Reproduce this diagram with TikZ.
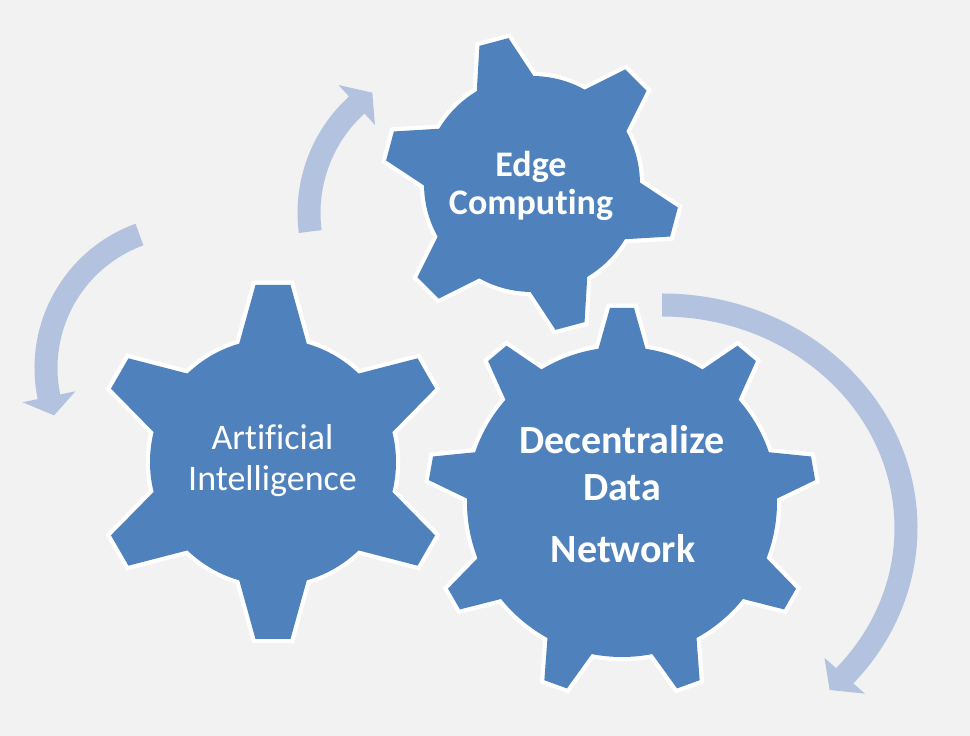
\documentclass[tikz,border=0pt]{standalone}
\usepackage{fontspec}
\setmainfont{Carlito}[Ligatures={NoCommon}]
\definecolor{bgc}{HTML}{F2F2F2}
\definecolor{gearc}{HTML}{4F81BD}
\definecolor{arrowc}{HTML}{B3C3DF}
\tikzset{
  gearline/.style={draw=white, line width=8.5pt, line join=miter},
  gearfill/.style={fill=gearc},
  cyc/.style={fill=arrowc},
  gtxt/.style={text=white, inner sep=0pt, anchor=base},
}
% #1 cx, #2 cy, #3 R, #4 body radius, #5 tip half width, #6 base radius, #7 base half width, #8 angles
\newcommand{\mygear}[8]{%
  \begin{scope}[shift={(#1,#2)}]
    \foreach \t in {#8} {\draw[gearline, rotate=\t] (#3,-#5) -- (#3,#5) -- (#6,#7) -- (#6,-#7) -- cycle;}
    \draw[gearline] (0,0) circle (#4);
    \foreach \t in {#8} {\fill[gearfill, rotate=\t] (#3,-#5) -- (#3,#5) -- (#6,#7) -- (#6,-#7) -- cycle;}
    \fill[gearfill] (0,0) circle (#4);
  \end{scope}}
% #1 cx, #2 cy, #3 rx, #4 ry, #5 start angle, #6 head base angle, #7 tip angle
\newcommand{\cycarrow}[7]{%
  \begin{scope}[shift={(#1,#2)}]
    \fill[cyc] (#5:#3+11.5 and #4+11.5)
      arc[start angle=#5, end angle=#6, x radius=#3+11.5, y radius=#4+11.5]
      -- (#6:#3+27 and #4+27) -- (#7:#3 and #4) -- (#6:#3-27 and #4-27)
      -- (#6:#3-11.5 and #4-11.5)
      arc[start angle=#6, end angle=#5, x radius=#3-11.5, y radius=#4-11.5]
      -- cycle;
  \end{scope}}
\begin{document}
\begin{tikzpicture}[x=1pt, y=1pt]
  \fill[bgc] (0,0) rectangle (970,736);
  \useasboundingbox (0,0) rectangle (970,736);
  % cycle arrows
  \cycarrow{455}{523}{146}{146}{187.3}{132.3}{124.5}
  \cycarrow{188}{368}{142}{142}{110}{191.7}{199.5}
  \cycarrow{662}{208}{244}{223}{90}{-41.5}{-46.6}
  % gears
  \mygear{532}{552}{147}{108}{15}{96}{32}{105,45,-15,-75,-135,165}
  \mygear{273}{274}{177}{123}{17.5}{111}{35.8}{30,90,150,210,270,330}
  \mygear{622}{234}{194}{155}{12}{143}{26.4}{90,130,170,210,250,290,330,10,50}
  % labels
  \node[gtxt, font=\bfseries\fontsize{36}{36}\selectfont] (edge1) at (531,559) {Edge};
  \node[gtxt, font=\bfseries\fontsize{36}{36}\selectfont] (edge2) at (531,521) {Computing};
  \node[gtxt, font=\fontsize{36}{36}\selectfont] (ai1) at (272.5,286) {Artificial};
  \node[gtxt, font=\fontsize{36}{36}\selectfont] (ai2) at (272.5,245) {Intelligence};
  \node[gtxt, font=\bfseries\fontsize{40}{40}\selectfont] (dd1) at (622,282) {Decentralize};
  \node[gtxt, font=\bfseries\fontsize{40}{40}\selectfont] (dd2) at (622,235) {Data};
  \node[gtxt, font=\bfseries\fontsize{40}{40}\selectfont] (dd3) at (623,173) {Network};
\end{tikzpicture}
\end{document}
